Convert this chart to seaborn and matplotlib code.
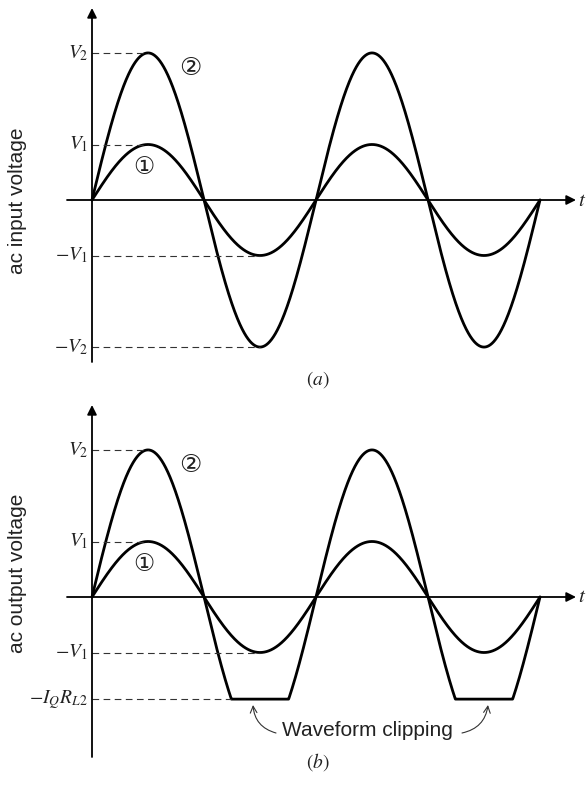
import numpy as np
import pandas as pd
import seaborn as sns
import matplotlib.pyplot as plt

# waveform values (V1 = 1 unit)
cycles = 2
amp_1 = 1.0
amp_2 = 2.65
clip_level = -1.84

in_labels = ['$V_2$', '$V_1$', '$-V_1$', '$-V_2$']
in_levels = [2.65, 1.0, -1.0, -2.65]
out_labels = ['$V_2$', '$V_1$', '$-V_1$', '$-I_QR_{L2}$']
out_levels = [2.65, 1.0, -1.0, -1.84]

sns.set_theme(style='white')
plt.rcParams['mathtext.fontset'] = 'stix'
plt.rcParams['font.family'] = ['Liberation Sans', 'DejaVu Sans']

# layout (pixels)
W, H = 587, 786
X0 = 92          # time origin
PER = 224        # pixels per cycle
SC = 55.5        # pixels per volt unit


def px2t(x):
    return (x - X0) / PER


t = np.linspace(0, cycles, 1601)
wave_in = pd.DataFrame({
    't': np.concatenate([t, t]),
    'v': np.concatenate([amp_1 * np.sin(2 * np.pi * t), amp_2 * np.sin(2 * np.pi * t)]),
    'curve': ['1'] * len(t) + ['2'] * len(t),
})
wave_out = wave_in.copy()
is2 = wave_out['curve'] == '2'
wave_out.loc[is2, 'v'] = wave_out.loc[is2, 'v'].clip(lower=clip_level)

fig = plt.figure(figsize=(W / 100, H / 100), dpi=100)


def panel(rect, y0, data, levels, labels, ylabel, tag, ytop, ybot, ylab_y, tag_y):
    ax = fig.add_axes(rect)
    ax.set_axis_off()
    top_px = H - (rect[1] + rect[3]) * H
    bot_px = H - rect[1] * H

    def px2v(y):
        return (y0 - y) / SC

    ax.set_xlim(px2t(0), px2t(W))
    ax.set_ylim(px2v(bot_px), px2v(top_px))

    sns.lineplot(data=data, x='t', y='v', hue='curve', palette=['black', 'black'],
                 estimator=None, sort=False, legend=False, lw=2.0, ax=ax)

    # axes with arrow heads
    arrow = dict(arrowstyle='-|>', mutation_scale=14, lw=1.3, color='black',
                 shrinkA=0, shrinkB=0)
    ax.annotate('', xy=(0, px2v(ytop)), xytext=(0, px2v(ybot)), arrowprops=arrow)
    ax.annotate('', xy=(px2t(576), 0), xytext=(px2t(67), 0), arrowprops=arrow)
    ax.text(px2t(578), 0, '$t$', fontsize=15, ha='left', va='center', color='#222')

    # dashed level guides
    for lev, lab in zip(levels, labels):
        if lev > 0:
            t_end = 0.25
        elif abs(lev) in (amp_1, amp_2):
            t_end = 0.75
        else:
            t_end = 0.5 + np.arcsin(-lev / amp_2) / (2 * np.pi)
        ax.plot([0, t_end], [lev, lev], color='#333', lw=0.8, ls=(0, (6, 4)))
        ax.text(px2t(88), lev, lab, fontsize=14, ha='right', va='center', color='#222')

    circ = ['DejaVu Sans', 'Noto Sans CJK JP']
    ax.text(px2t(190), px2v(y0 - 132), '\u2461', fontsize=18, ha='center', va='center',
            family=circ, color='#222')
    ax.text(px2t(144), px2v(y0 - 33), '\u2460', fontsize=17, ha='center', va='center',
            family=circ, color='#222')

    ax.text(px2t(18), px2v(ylab_y), ylabel, rotation=90, fontsize=15,
            ha='center', va='center', color='#222')
    ax.text(px2t(318), px2v(tag_y), tag, fontsize=14, ha='center', va='center', color='#222')
    return ax, px2v


ax_a, _ = panel([0, 0.5, 1, 0.5], 200, wave_in, in_levels, in_labels,
                'ac input voltage', '$(a)$', 8, 362, 201, 380)
ax_b, pv = panel([0, 0, 1, 0.5], 597, wave_out, out_levels, out_labels,
                 'ac output voltage', '$(b)$', 405, 757, 573, 762)

ax_b.text(px2t(367), pv(731), 'Waveform clipping', fontsize=15,
          ha='center', va='center', color='#222')
ax_b.annotate('', xy=(px2t(253), pv(705)), xytext=(px2t(276), pv(733)),
              arrowprops=dict(arrowstyle='->', connectionstyle='arc3,rad=-0.35',
                              lw=0.8, color='#333', shrinkA=0, shrinkB=0))
ax_b.annotate('', xy=(px2t(488), pv(705)), xytext=(px2t(462), pv(733)),
              arrowprops=dict(arrowstyle='->', connectionstyle='arc3,rad=0.35',
                              lw=0.8, color='#333', shrinkA=0, shrinkB=0))

fig.savefig('out.png', dpi=100)
